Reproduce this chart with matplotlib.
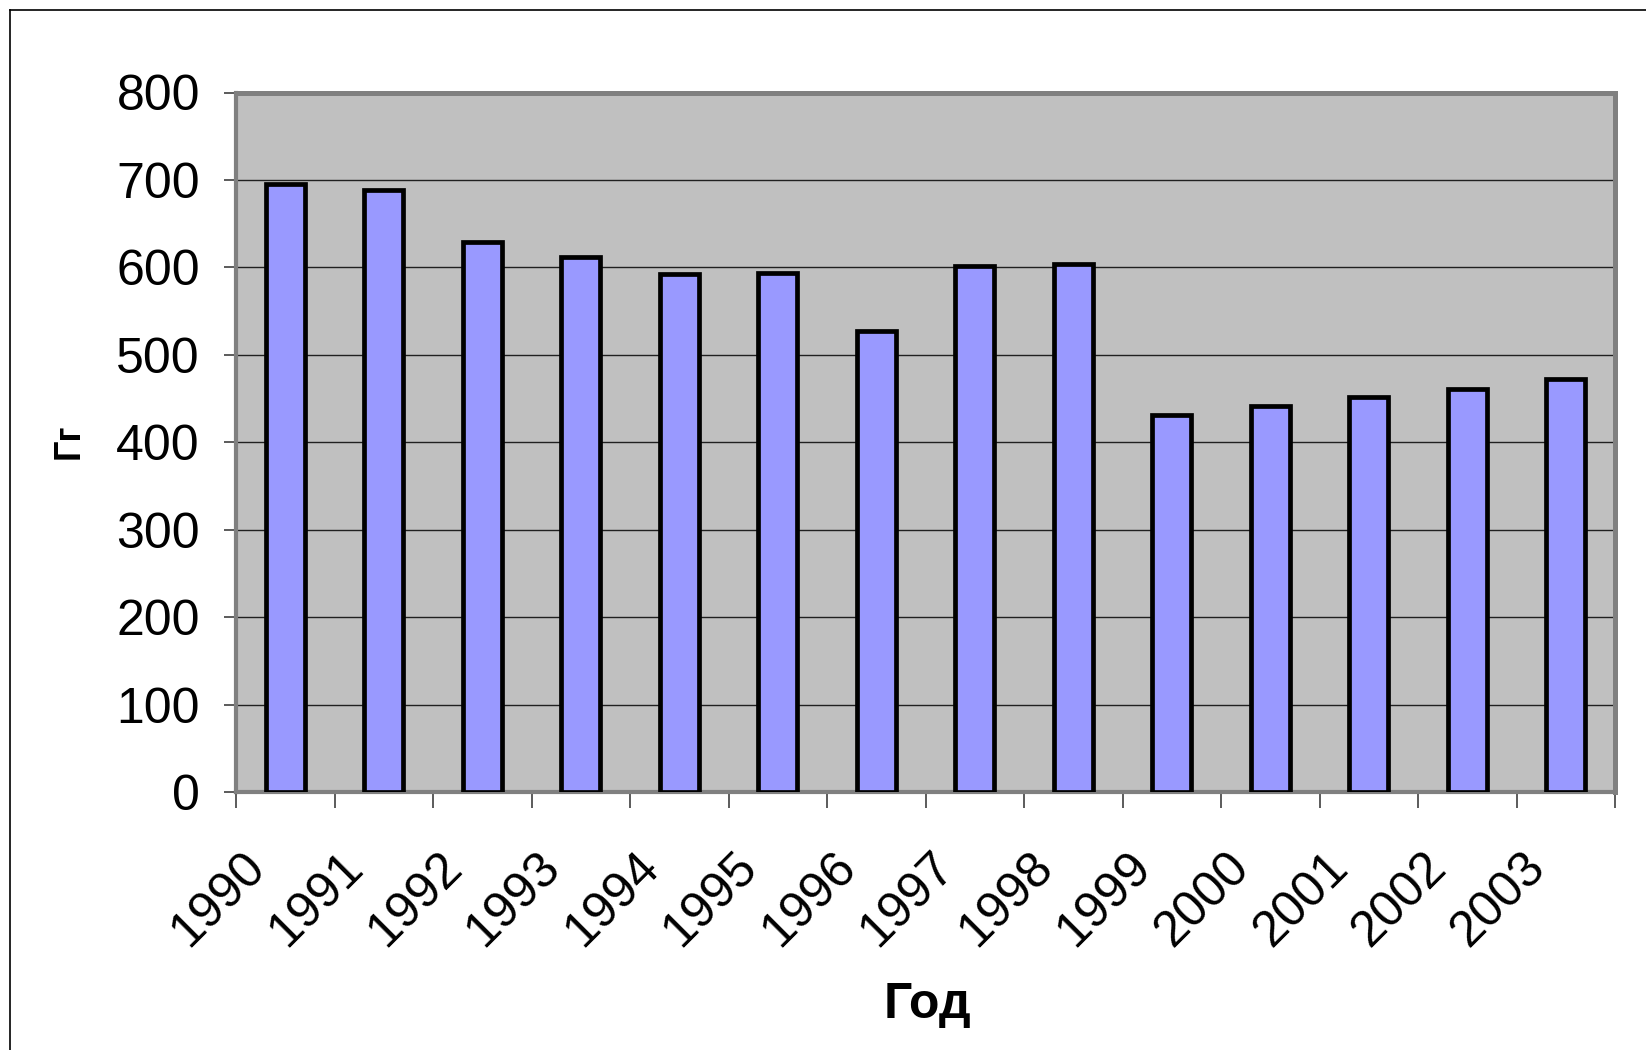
import matplotlib
matplotlib.use('Agg')
import matplotlib.pyplot as plt
import matplotlib.transforms
from matplotlib.lines import Line2D
import numpy as np

# data
years = ['1990', '1991', '1992', '1993', '1994', '1995', '1996',
         '1997', '1998', '1999', '2000', '2001', '2002', '2003']
values = [695, 689, 629, 612, 592, 593, 527,
          602, 604, 431, 442, 452, 461, 472]
y_ticks = [0, 100, 200, 300, 400, 500, 600, 700, 800]

plt.rcParams['font.family'] = ['Liberation Sans', 'DejaVu Sans']

W, H, DPI = 1646, 1050, 100
fig = plt.figure(figsize=(W / DPI, H / DPI), dpi=DPI)
fig.patch.set_facecolor('white')

# plot area in pixel terms
left, right, top, bottom = 236, 1615, 92.5, 792
ax = fig.add_axes([left / W, 1 - bottom / H, (right - left) / W, (bottom - top) / H])
ax.set_facecolor('#C0C0C0')

x = np.arange(len(years))
ax.bar(x, values, width=0.4, color='#9999FF', edgecolor='black',
       linewidth=3.4, zorder=3)

ax.set_xlim(-0.5, len(years) - 0.5)
ax.set_ylim(0, 800)

# y axis
ax.set_yticks(y_ticks)
ax.set_yticklabels([str(v) for v in y_ticks], fontsize=36)
ax.tick_params(axis='y', direction='out', length=9, width=1.2,
               color='#404040', pad=17)
ax.grid(which='major', axis='y', color='#202020', linewidth=1.0, zorder=1)
ax.set_axisbelow(True)

# x axis: ticks between categories, labels at category centres
ax.set_xticks(np.arange(-0.5, len(years), 1.0))
ax.set_xticklabels([])
ax.tick_params(axis='x', which='major', direction='out', length=11.5,
               width=1.2, color='#404040')
ax.set_xticks(x, minor=True)
ax.set_xticklabels(years, minor=True, fontsize=36)
ax.tick_params(axis='x', which='minor', length=0, pad=49)

dx = 20 / 72.; dy = 0 / 72.
offset = matplotlib.transforms.ScaledTranslation(dx, dy, fig.dpi_scale_trans)
for label in ax.xaxis.get_minorticklabels():
    label.set_rotation(45)
    label.set_rotation_mode('anchor')
    label.set_ha('right')
    label.set_va('center')
    label.set_transform(label.get_transform() - offset)

for side in ['top', 'right', 'bottom', 'left']:
    ax.spines[side].set_color('#808080')
    ax.spines[side].set_linewidth(3)
ax.spines['top'].set_linewidth(3.6)
ax.spines['right'].set_linewidth(3.6)

# axis titles
fig.text(927 / W, 1 - 1005 / H, 'Год', fontsize=36, fontweight='bold',
         ha='center', va='center')
fig.text(69 / W, 1 - 441 / H, 'Гг', fontsize=26, fontweight='bold',
         ha='center', va='center', rotation=90)

# outer chart border (only top and left visible in the reference)
fig.add_artist(Line2D([10 / W, 10 / W], [0, 1 - 10 / H], color='black',
                      linewidth=1.2, transform=fig.transFigure))
fig.add_artist(Line2D([10 / W, 1], [1 - 10 / H, 1 - 10 / H], color='black',
                      linewidth=1.2, transform=fig.transFigure))

fig.savefig('out.png', dpi=DPI)
